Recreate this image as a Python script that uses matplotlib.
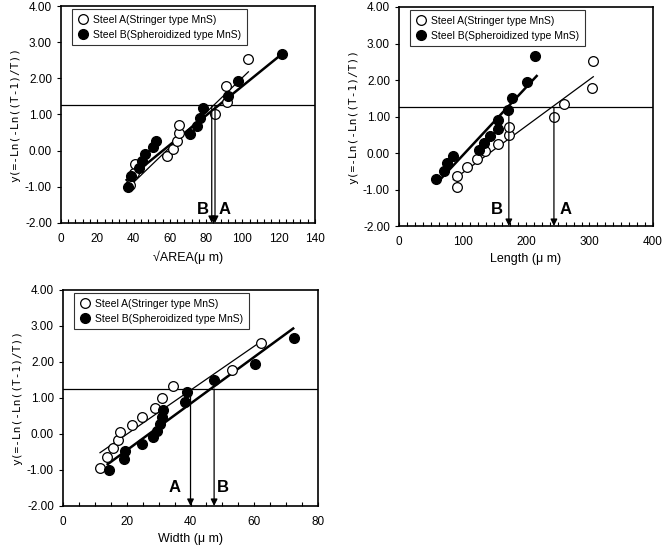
import numpy as np
import matplotlib
matplotlib.use("Agg")
import matplotlib.pyplot as plt
from matplotlib.ticker import MultipleLocator, FormatStrFormatter

plt.rcParams['font.family'] = ['Liberation Sans', 'DejaVu Sans']

# y values (Weibull plot) shared by ranks
yA = [-0.94, -0.63, -0.38, -0.16, 0.05, 0.26, 0.48, 0.72, 1.00, 1.34, 1.79, 2.53]
yB = [-1.00, -0.70, -0.48, -0.28, -0.09, 0.09, 0.27, 0.46, 0.67, 0.90, 1.17, 1.50, 1.94, 2.67]

# sqrt(AREA)
areaA = [38.0, 40.2, 40.8, 58.3, 61.6, 64.1, 65.2, 65.2, 84.9, 91.3, 91.0, 103.3]
areaB = [37.1, 38.4, 43.2, 44.8, 46.3, 50.9, 52.2, 71.1, 74.8, 76.6, 78.5, 92.2, 97.8, 121.7]
# Length (lowest B point not shown in this panel)
lenA = [91.8, 91.8, 106.6, 122.3, 135.4, 156.4, 173.2, 173.2, 244.1, 259.8, 304.4, 306.0]
lenB = [58.3, 70.9, 76.1, 85.6, 126.5, 133.9, 143.3, 156.4, 156.4, 172.2, 177.4, 201.1, 214.2]
lenB_y = yB[1:]
# Width
widA = [11.6, 13.7, 15.8, 17.3, 17.9, 21.5, 24.7, 28.8, 31.2, 34.6, 52.9, 62.1]
widB = [14.4, 19.2, 19.6, 24.7, 28.3, 29.6, 30.4, 31.0, 31.4, 38.2, 39.0, 47.4, 60.2, 72.5]

# fitted lines, endpoints
lineA_area = [(38.5, -0.95), (103.3, 2.18)]
lineB_area = [(36.2, -0.81), (121.7, 2.67)]
lineA_len = [(85.5, -0.73), (306.0, 2.09)]
lineB_len = [(59.3, -0.83), (216.8, 2.11)]
lineA_wid = [(11.6, -0.52), (62.3, 2.58)]
lineB_wid = [(14.0, -0.84), (72.2, 2.93)]

# critical values (arrows) and threshold
y_crit = 1.25
arrows_area = {'B': 83.1, 'A': 84.9}
arrows_len = {'B': 173.0, 'A': 244.0}
arrows_wid = {'A': 40.0, 'B': 47.4}
labels_area = {'B': (78, -1.62), 'A': (90, -1.62)}
labels_len = {'B': (154, -1.55), 'A': (262, -1.55)}
labels_wid = {'A': (35, -1.5), 'B': (50, -1.5)}

ylab = 'y(=-Ln(-Ln((T-1)/T))'

fig = plt.figure(figsize=(6.62, 5.51), dpi=100)


def panel(rect, xA, yA_, xB, yB_, lA, lB, arr, labs, xmax, xmaj, xmin_step, xlabel):
    ax = fig.add_axes(rect)
    ax.plot(*zip(*lA), color='black', lw=0.9, zorder=2)
    ax.plot(*zip(*lB), color='black', lw=1.8, zorder=2)
    ax.plot(xA, yA_, 'o', ms=7, mfc='white', mec='black', mew=0.9, zorder=3,
            label='Steel A(Stringer type MnS)')
    ax.plot(xB, yB_, 'o', ms=7, mfc='black', mec='black', zorder=3,
            label='Steel B(Spheroidized type MnS)')
    ax.axhline(y_crit, color='black', lw=0.9, zorder=1)
    for k, xv in arr.items():
        ax.annotate('', xy=(xv, -2.0), xytext=(xv, y_crit),
                    arrowprops=dict(arrowstyle='-|>', color='black', lw=0.9,
                                    mutation_scale=10, shrinkA=0, shrinkB=0), zorder=4)
    for k, (tx, ty) in labs.items():
        ax.text(tx, ty, k, fontsize=12, fontweight='bold', ha='center', va='center')
    ax.set_xlim(0, xmax)
    ax.set_ylim(-2, 4)
    ax.xaxis.set_major_locator(MultipleLocator(xmaj))
    ax.xaxis.set_minor_locator(MultipleLocator(xmin_step))
    ax.yaxis.set_major_locator(MultipleLocator(1))
    ax.yaxis.set_major_formatter(FormatStrFormatter('%.2f'))
    ax.tick_params(axis='x', which='both', direction='in', length=3, width=0.8,
                   labelsize=8.5, pad=7)
    ax.tick_params(axis='y', direction='out', length=3, width=0.8, labelsize=8.5)
    for s in ax.spines.values():
        s.set_linewidth(1.2)
    ax.set_xlabel(xlabel, fontsize=9, labelpad=4)
    ax.set_ylabel(ylab, fontsize=8, labelpad=3, family='DejaVu Sans Mono')
    leg = ax.legend(loc='upper left', bbox_to_anchor=(0.045, 0.985), borderaxespad=0,
                    fontsize=7.5, frameon=True, fancybox=False, handletextpad=0.4,
                    borderpad=0.55, labelspacing=0.45, handlelength=1.0)
    leg.get_frame().set_edgecolor('black')
    leg.get_frame().set_linewidth(0.8)
    return ax


panel([0.0921, 0.5953, 0.3837, 0.3938], areaA, yA, areaB, yB, lineA_area, lineB_area,
      arrows_area, labels_area, 140, 20, 4, '√AREA(μ m)')
panel([0.6027, 0.5898, 0.3837, 0.3975], lenA, yA, lenB, lenB_y, lineA_len, lineB_len,
      arrows_len, labels_len, 400, 100, 12.5, 'Length (μ m)')
panel([0.0952, 0.0817, 0.3852, 0.3920], widA, yA, widB, yB, lineA_wid, lineB_wid,
      arrows_wid, labels_wid, 80, 20, 5, 'Width (μ m)')

fig.savefig('out.png', dpi=100)
